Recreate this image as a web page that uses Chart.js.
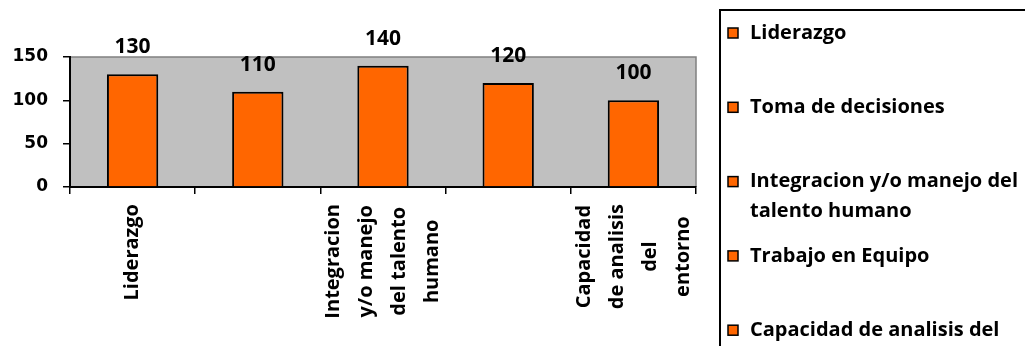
<!DOCTYPE html>
<html>
<head>
<meta charset="utf-8">
<title>Competencias</title>
<script src="https://cdn.jsdelivr.net/npm/chart.js@4.4.1/dist/chart.umd.min.js"></script>
<style>
  html, body { margin: 0; padding: 0; background: #fff; }
  #chart { display: block; }
</style>
</head>
<body>
<canvas id="chart" width="1025" height="346"></canvas>
<script>
// Competencias evaluadas y puntaje de cada una
const categories = [
    'Liderazgo',
    'Toma de decisiones',
    'Integracion y/o manejo del talento humano',
    'Trabajo en Equipo',
    'Capacidad de analisis del entorno'
];
const scores = [130, 110, 140, 120, 100];
const yTicks = [0, 50, 100, 150];

// Etiquetas del eje X tal como se imprimen (la 2a y 4a se omiten)
const axisLabels = [
    ['Liderazgo'],
    [],
    ['Integracion', 'y/o manejo', 'del talento', 'humano'],
    [],
    ['Capacidad', 'de analisis', 'del', 'entorno']
];

// Texto de la leyenda, ya partido en renglones
const legendLines = [
    ['Liderazgo'],
    ['Toma de decisiones'],
    ['Integracion y/o manejo del', 'talento humano'],
    ['Trabajo en Equipo'],
    ['Capacidad de analisis del', 'entorno']
];

const BAR_COLOR = '#FF6600';
const PLOT_BG = '#C0C0C0';
const TEXT_FONT = '"Open Sans", Lato, sans-serif';
const AXIS_FONT = '"DejaVu Sans", Verdana, sans-serif';

/**
 * Gray plot area behind the bars
 */
const plotBackground = {
    id: 'plotBackground',
    beforeDraw(chart) {
        const { ctx, chartArea: a } = chart;
        ctx.save();
        ctx.fillStyle = PLOT_BG;
        ctx.fillRect(a.left, a.top, a.right - a.left, a.bottom - a.top);
        ctx.strokeStyle = '#808080';
        ctx.lineWidth = 1.5;
        ctx.beginPath();
        ctx.moveTo(a.left, a.top);
        ctx.lineTo(a.right, a.top);
        ctx.lineTo(a.right, a.bottom);
        ctx.stroke();
        ctx.restore();
    }
};

/**
 * Value printed above each bar
 */
const valueLabels = {
    id: 'valueLabels',
    afterDatasetsDraw(chart) {
        const { ctx } = chart;
        const meta = chart.getDatasetMeta(0);
        ctx.save();
        ctx.font = 'bold 21px ' + TEXT_FONT;
        ctx.fillStyle = '#000';
        ctx.textAlign = 'center';
        ctx.textBaseline = 'middle';
        meta.data.forEach((bar, i) => {
            ctx.fillText(String(chart.data.datasets[0].data[i]), bar.x, bar.y - 27);
        });
        ctx.restore();
    }
};

/**
 * Vertical, multi-line category labels under the x axis
 */
const verticalAxisLabels = {
    id: 'verticalAxisLabels',
    afterDraw(chart) {
        const { ctx } = chart;
        const xScale = chart.scales.x;
        const topY = 204;
        const lineGap = 33;
        ctx.save();
        ctx.font = 'bold 20px ' + TEXT_FONT;
        ctx.fillStyle = '#000';
        ctx.textAlign = 'center';
        ctx.textBaseline = 'middle';
        axisLabels.forEach((lines, i) => {
            if (!lines.length) return;
            const x = xScale.getPixelForTick(i);
            const widest = Math.max(...lines.map(l => ctx.measureText(l).width));
            ctx.save();
            ctx.translate(x, topY);
            ctx.rotate(-Math.PI / 2);
            lines.forEach((line, j) => {
                const offset = (j - (lines.length - 1) / 2) * lineGap;
                ctx.fillText(line, -widest / 2, offset);
            });
            ctx.restore();
        });
        ctx.restore();
    }
};

/**
 * Legend box on the right, one entry per category
 */
const sideLegend = {
    id: 'sideLegend',
    afterDraw(chart) {
        const { ctx } = chart;
        ctx.save();
        ctx.strokeStyle = '#000';
        ctx.lineWidth = 2;
        ctx.strokeRect(720, 10, 400, 400);

        ctx.font = 'bold 20px ' + TEXT_FONT;
        ctx.textAlign = 'left';
        ctx.textBaseline = 'middle';
        legendLines.forEach((lines, i) => {
            const y = 33 + i * 74.3;
            ctx.fillStyle = BAR_COLOR;
            ctx.fillRect(728, y - 5, 10, 10);
            ctx.strokeStyle = '#000';
            ctx.lineWidth = 1.5;
            ctx.strokeRect(728, y - 5, 10, 10);
            ctx.fillStyle = '#000';
            lines.forEach((line, j) => {
                ctx.fillText(line, 750, y + j * 30);
            });
        });
        ctx.restore();
    }
};

new Chart(document.getElementById('chart').getContext('2d'), {
    type: 'bar',
    data: {
        labels: categories,
        datasets: [{
            data: scores,
            backgroundColor: BAR_COLOR,
            borderColor: '#000',
            borderWidth: 2,
            barPercentage: 0.41,
            categoryPercentage: 1
        }]
    },
    options: {
        responsive: false,
        animation: false,
        layout: {
            padding: { top: 57, right: 329, bottom: 0, left: 0 }
        },
        plugins: {
            legend: { display: false },
            tooltip: { enabled: false }
        },
        scales: {
            x: {
                grid: {
                    offset: true,
                    drawOnChartArea: false,
                    drawTicks: true,
                    tickLength: 7,
                    color: '#000',
                    lineWidth: 1.5
                },
                border: { color: '#000', width: 2 },
                ticks: { display: false },
                afterFit(scale) {
                    scale.height = 159;
                }
            },
            y: {
                min: yTicks[0],
                max: yTicks[yTicks.length - 1],
                afterBuildTicks(scale) {
                    scale.ticks = yTicks.map(v => ({ value: v }));
                },
                grid: {
                    drawOnChartArea: false,
                    drawTicks: true,
                    tickLength: 7,
                    color: '#000',
                    lineWidth: 1.5
                },
                border: { color: '#000', width: 2 },
                ticks: {
                    color: '#000',
                    padding: 15,
                    font: { family: AXIS_FONT, size: 17, weight: 'bold' }
                },
                afterFit(scale) {
                    scale.width = 70;
                }
            }
        }
    },
    plugins: [plotBackground, valueLabels, verticalAxisLabels, sideLegend]
});
</script>
</body>
</html>
